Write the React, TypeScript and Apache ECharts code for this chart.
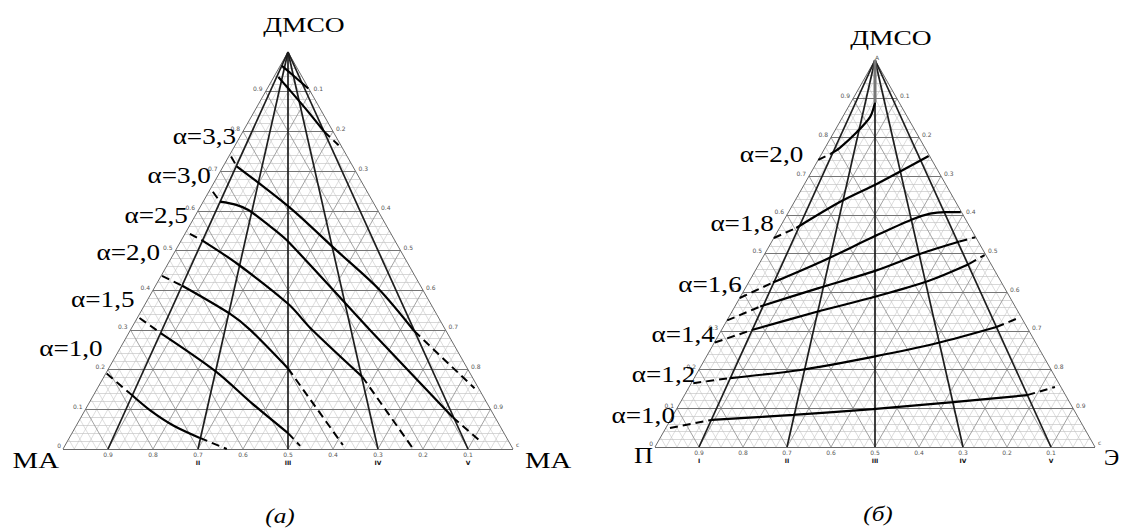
import React, { useEffect, useRef } from "react";
import * as echarts from "echarts";

// ---------- DATA ----------
// Compositions are [x(ДМСО), x(right component)] mole fractions.
const LEVELS = [0.1, 0.2, 0.3, 0.4, 0.5, 0.6, 0.7, 0.8, 0.9];
const LEFT_EDGE_TICKS = ["0.1", "0.2", "0.3", "0.4", "0.5", "0.6", "0.7", "0.8", "0.9"];
const RIGHT_EDGE_TICKS = ["0.9", "0.8", "0.7", "0.6", "0.5", "0.4", "0.3", "0.2", "0.1"];
const BASE_TICKS = ["0.9", "0.8", "0.7", "0.6", "0.5", "0.4", "0.3", "0.2", "0.1"];
const RAY_BASES = [0.1, 0.3, 0.5, 0.7, 0.9];
const ROMAN_A = ["", "II", "III", "IV", "V"];
const ROMAN_B = ["I", "II", "III", "IV", "V"];

type Iso = { label: string | null; lead: number[][]; body: number[][]; tail: number[][] };

// panel (a): ДМСО – МА – МА
const ISO_A: Iso[] = [
  { label: null, lead: [], body: [[0.965, 0.004], [0.937, 0.047], [0.908, 0.091]], tail: [] },
  { label: null, lead: [], body: [[0.937, 0.01], [0.911, 0.043], [0.856, 0.112], [0.8, 0.18]], tail: [[0.8, 0.18], [0.765, 0.23]] },
  { label: "α=3,3", lead: [[0.737, 0.005], [0.712, 0.03]], body: [[0.712, 0.03], [0.606, 0.203], [0.504, 0.352], [0.403, 0.5], [0.297, 0.632]], tail: [[0.297, 0.632], [0.153, 0.838]] },
  { label: "α=3,0", lead: [[0.648, 0.009], [0.623, 0.0375]], body: [[0.623, 0.0375], [0.615, 0.0775], [0.602, 0.111], [0.57, 0.165], [0.525, 0.2355], [0.3, 0.532], [0.08, 0.826]], tail: [[0.08, 0.826], [0.017, 0.9215]] },
  { label: "α=2,5", lead: [[0.542, 0.011], [0.525, 0.0475]], body: [[0.525, 0.0475], [0.466, 0.155], [0.364, 0.32], [0.305, 0.397], [0.182, 0.574]], tail: [[0.182, 0.574], [0.004, 0.774]] },
  { label: "α=2,0", lead: [[0.436, 0.002], [0.411, 0.0595]], body: [[0.411, 0.0595], [0.339, 0.2035], [0.3, 0.266], [0.203, 0.3985]], tail: [[0.203, 0.3985], [0.01, 0.617]] },
  { label: "α=1,5", lead: [[0.33, 0.005], [0.292, 0.071]], body: [[0.292, 0.071], [0.195, 0.2425], [0.115, 0.3625], [0.04, 0.48]], tail: [[0.04, 0.48], [0.008, 0.523]] },
  { label: "α=1,0", lead: [[0.19, 0.002], [0.136, 0.085]], body: [[0.136, 0.085], [0.098, 0.144], [0.06, 0.214], [0.028, 0.29]], tail: [[0.028, 0.29], [0.0, 0.364]] },
];

// panel (б): ДМСО – П – Э
const ISO_B: Iso[] = [
  { label: "α=2,0", lead: [[0.742, 0.0], [0.758, 0.021]], body: [[0.758, 0.021], [0.773, 0.0335], [0.814, 0.052], [0.853, 0.0625], [0.89, 0.055]], tail: [] },
  { label: "α=1,8", lead: [[0.54, 0.0], [0.566, 0.038]], body: [[0.566, 0.038], [0.633, 0.1035], [0.681, 0.1655], [0.752, 0.246]], tail: [] },
  { label: "α=1,6", lead: [[0.385, 0.0], [0.425, 0.0555]], body: [[0.425, 0.0555], [0.48, 0.14], [0.545, 0.2275], [0.588, 0.29], [0.603, 0.3235], [0.607, 0.3545], [0.607, 0.3915]], tail: [] },
  { label: null, lead: [[0.327, 0.0005], [0.363, 0.0575]], body: [[0.363, 0.0575], [0.41, 0.165], [0.455, 0.2725], [0.5, 0.355], [0.531, 0.4265]], tail: [[0.531, 0.4265], [0.542, 0.457]] },
  { label: "α=1,4", lead: [[0.27, 0.001], [0.303, 0.0705]], body: [[0.303, 0.0705], [0.35, 0.195], [0.389, 0.3075], [0.429, 0.4065], [0.473, 0.4775]], tail: [[0.473, 0.4775], [0.496, 0.501]] },
  { label: "α=1,2", lead: [[0.165, 0.0045], [0.178, 0.081]], body: [[0.178, 0.081], [0.199, 0.2305], [0.233, 0.3785], [0.268, 0.506], [0.31, 0.621]], tail: [[0.31, 0.621], [0.332, 0.657]] },
  { label: "α=1,0", lead: [[0.049, 0.0095], [0.07, 0.094]], body: [[0.07, 0.094], [0.083, 0.2725], [0.098, 0.446], [0.116, 0.62], [0.134, 0.779]], tail: [[0.134, 0.779], [0.155, 0.8315]] },
];
// thick grey trace of the α=2,0 line of panel (б) along the ray to the ДМСО corner
const B_APEX_TRACE = [[0.89, 0.055], [1.0, 0.0]];

// ---------- LAYOUT / STYLE ----------
const PANELS = [
  { left: 63, top: 52, width: 450, height: 397 },
  { left: 655, top: 60, width: 440, height: 387 },
];
const LABEL_OFF_A = [[5, -20], [-2, -17], [-2, -19], [-2, -24], [-5, -19], [-4, -25]];
const LABEL_OFF_B = [[-15, -6], [0, -15], [2, -14], [0, -8], [2, -9], [5, -13]];
const SERIF = "'Liberation Serif', 'Times New Roman', serif";
const SANS = "'DejaVu Sans', sans-serif";

const toXY = (p: number[]) => [p[1] + p[0] / 2, p[0]];

function gridSegs(stepH: number, stepS: number, skipMajor: boolean) {
  const h: number[][][] = [];
  const s: number[][][] = [];
  const isMajor = (t: number) => Math.abs(t * 10 - Math.round(t * 10)) < 1e-6;
  const nh = Math.round(1 / stepH);
  for (let i = 1; i < nh; i++) {
    const t = i * stepH;
    if (skipMajor && isMajor(t)) continue;
    h.push([toXY([t, 0]), toXY([t, 1 - t])]);
  }
  const ns = Math.round(1 / stepS);
  for (let i = 1; i < ns; i++) {
    const t = i * stepS;
    if (skipMajor && isMajor(t)) continue;
    s.push([toXY([0, t]), toXY([1 - t, t])]);
    s.push([toXY([0, 1 - t]), toXY([1 - t, 0])]);
  }
  return { h, s };
}

function buildSeries(p: number, isos: Iso[]) {
  const fine = gridSegs(0.02, 0.025, true);
  const major = gridSegs(0.1, 0.1, false);
  const base = { coordinateSystem: "cartesian2d", xAxisIndex: p, yAxisIndex: p, silent: true, clip: false };
  const series: any[] = [];
  series.push({ ...base, type: "lines", z: 1, lineStyle: { color: "#b8b8b8", width: 0.55, opacity: 1 }, data: fine.h.map((c) => ({ coords: c })) });
  series.push({ ...base, type: "lines", z: 1, lineStyle: { color: "#c0c0c0", width: 0.55, opacity: 1 }, data: fine.s.map((c) => ({ coords: c })) });
  series.push({ ...base, type: "lines", z: 2, lineStyle: { color: "#8c8c8c", width: 0.8, opacity: 1 }, data: major.s.map((c) => ({ coords: c })) });
  series.push({ ...base, type: "lines", z: 2, lineStyle: { color: "#767676", width: 1, opacity: 1 }, data: major.h.map((c) => ({ coords: c })) });
  const outline = [
    [toXY([0, 0]), toXY([0, 1])],
    [toXY([0, 0]), toXY([1, 0])],
    [toXY([0, 1]), toXY([1, 0])],
  ];
  series.push({ ...base, type: "lines", z: 3, lineStyle: { color: "#6a6a6a", width: 1, opacity: 1 }, data: outline.map((c) => ({ coords: c })) });
  series.push({ ...base, type: "lines", z: 4, lineStyle: { color: "#1e1e1e", width: 1.7, opacity: 1 }, data: RAY_BASES.map((b) => ({ coords: [toXY([1, 0]), toXY([0, b])] })) });
  const lineBase = { ...base, type: "line", symbol: "none", showSymbol: false, z: 5 };
  isos.forEach((iso) => {
    if (iso.lead.length) series.push({ ...lineBase, data: iso.lead.map(toXY), lineStyle: { color: "#000", width: 2, type: [8, 5] } });
    series.push({ ...lineBase, data: iso.body.map(toXY), smooth: 0.3, lineStyle: { color: "#000", width: 2.2 } });
    if (iso.tail.length) series.push({ ...lineBase, data: iso.tail.map(toXY), lineStyle: { color: "#000", width: 2, type: [8, 5] } });
  });
  if (p === 1) series.push({ ...lineBase, data: B_APEX_TRACE.map(toXY), lineStyle: { color: "#777", width: 3 } });
  return series;
}

function text(x: number, y: number, t: string, font: string, align: string, vAlign: string, scaleX = 1, fill = "#000") {
  return { type: "text", x, y, scaleX, silent: true, z: 100, style: { text: t, font, fill, align, verticalAlign: vAlign } };
}

function buildTexts(chart: any) {
  const g: any[] = [];
  const px = (p: number, pt: number[]) => chart.convertToPixel({ gridIndex: p }, toXY(pt));
  const small = `6px ${SANS}`;
  [0, 1].forEach((p) => {
    const isos = p === 0 ? ISO_A : ISO_B;
    const offs = p === 0 ? LABEL_OFF_A : LABEL_OFF_B;
    const roman = p === 0 ? ROMAN_A : ROMAN_B;
    LEVELS.forEach((a, i) => {
      const l = px(p, [a, 0]);
      g.push(text(l[0] - 3, l[1] - 3, LEFT_EDGE_TICKS[i], small, "right", "middle", 1, "#555"));
      const r = px(p, [a, 1 - a]);
      g.push(text(r[0] + 3, r[1] - 3, RIGHT_EDGE_TICKS[i], small, "left", "middle", 1, "#555"));
      const b = px(p, [0, a]);
      g.push(text(b[0], b[1] + 2, BASE_TICKS[i], small, "center", "top", 1, "#555"));
    });
    RAY_BASES.forEach((b, i) => {
      const q = px(p, [0, b]);
      if (roman[i]) g.push(text(q[0], q[1] + 10, roman[i], `bold 6px ${SANS}`, "center", "top", 1, "#111"));
    });
    const bl = px(p, [0, 0]);
    const br = px(p, [0, 1]);
    const ap = px(p, [1, 0]);
    g.push(text(bl[0] - 2, bl[1] - 4, "0", small, "right", "middle", 1, "#555"));
    g.push(text(br[0] + 3, br[1] - 5, "c", small, "left", "middle", 1, "#555"));
    if (p === 1) g.push(text(ap[0] + 2, ap[1] - 3, "A", small, "center", "middle", 1, "#555"));
    g.push(text(ap[0] + 16, ap[1] - (p === 0 ? 28 : 23), "ДМСО", `22px ${SERIF}`, "center", "middle", 1.25));
    if (p === 0) {
      g.push(text(bl[0] - 4, bl[1] + 11, "МА", `24px ${SERIF}`, "right", "middle", 1.2));
      g.push(text(br[0] + 12, br[1] + 11, "МА", `24px ${SERIF}`, "left", "middle", 1.2));
    } else {
      g.push(text(bl[0] - 2, bl[1] + 8, "П", `23px ${SERIF}`, "right", "middle", 1.15));
      g.push(text(br[0] + 9, br[1] + 10, "Э", `23px ${SERIF}`, "left", "middle", 1.0));
    }
    const mid = px(p, [0, 0.5]);
    g.push(text(mid[0] - 8 + p * 11, mid[1] + 67, p === 0 ? "(a)" : "(б)", `italic 22px ${SERIF}`, "center", "middle", 1.15));
    let k = 0;
    isos.forEach((iso) => {
      if (!iso.label) return;
      const s = px(p, iso.lead[0]);
      const o = offs[k++];
      g.push(text(s[0] + o[0], s[1] + o[1], iso.label, `23px ${SERIF}`, "right", "middle", 1.18));
    });
  });
  return g;
}

export default function App() {
  const ref = useRef<HTMLDivElement>(null);
  useEffect(() => {
    const chart = echarts.init(ref.current!, null, { renderer: "svg" });
    chart.setOption({
      animation: false,
      backgroundColor: "#fff",
      grid: PANELS.map((g) => ({ ...g, containLabel: false })),
      xAxis: PANELS.map((_, i) => ({ type: "value", gridIndex: i, min: 0, max: 1, show: false })),
      yAxis: PANELS.map((_, i) => ({ type: "value", gridIndex: i, min: 0, max: 1, show: false })),
      series: [...buildSeries(0, ISO_A), ...buildSeries(1, ISO_B)],
    });
    chart.setOption({ graphic: buildTexts(chart) });
    return () => chart.dispose();
  }, []);
  return <div ref={ref} style={{ position: "fixed", left: 0, top: 0, width: 1123, height: 529, background: "#fff" }} />;
}
